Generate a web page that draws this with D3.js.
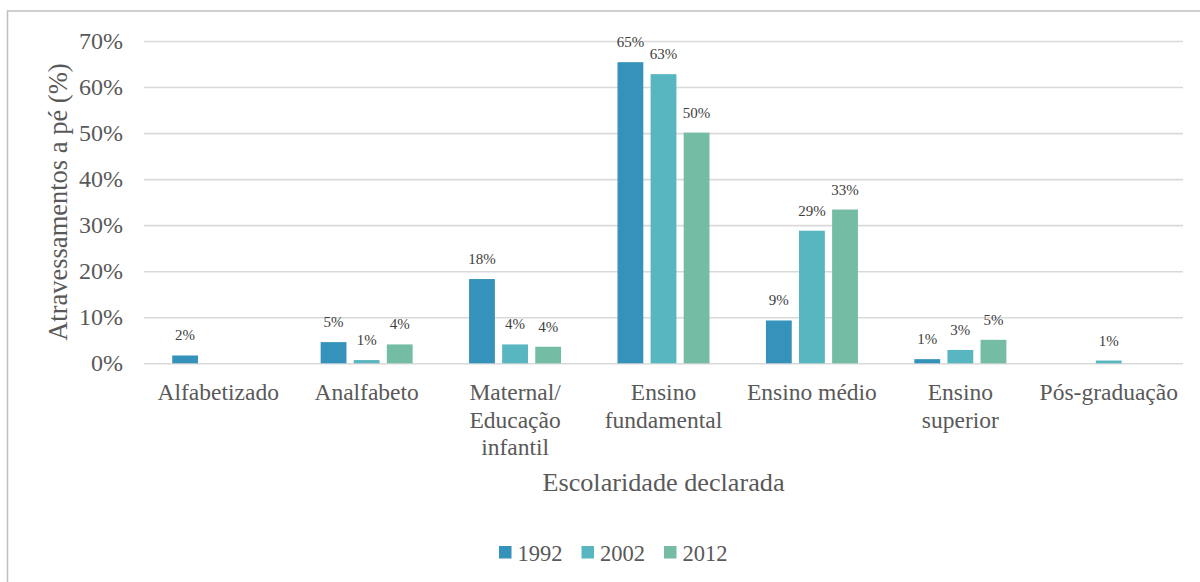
<!DOCTYPE html>
<html>
<head>
<meta charset="utf-8">
<script src="https://cdn.jsdelivr.net/npm/d3@7"></script>
<style>
  html, body { margin: 0; padding: 0; background: #fff; }
  svg { display: block; }
</style>
</head>
<body>
<svg id="chart" width="1200" height="582"></svg>
<script>
// Education level of pedestrians crossing, share per survey year
const categories = [
  "Alfabetizado",
  "Analfabeto",
  "Maternal/\nEducação\ninfantil",
  "Ensino\nfundamental",
  "Ensino médio",
  "Ensino\nsuperior",
  "Pós-graduação"
];
const years = ["1992", "2002", "2012"];
const values1992 = [0.017, 0.046, 0.183, 0.654, 0.093, 0.009, null];
const values2002 = [null, 0.007, 0.041, 0.628, 0.288, 0.029, 0.006];
const values2012 = [null, 0.041, 0.036, 0.501, 0.334, 0.051, null];
const yTicks = [0, 0.1, 0.2, 0.3, 0.4, 0.5, 0.6, 0.7];
const colors = ["#3592BA", "#58B6C0", "#74BDA4"];

const SERIF = "'Liberation Serif', 'Times New Roman', Times, serif";

const series = [values1992, values2002, values2012];
const rows = categories.map((c, i) => ({
  cat: c,
  vals: years.map((y, j) => ({ year: y, value: series[j][i] }))
}));

const svg = d3.select("#chart");

// outer frame
svg.append("rect")
  .attr("x", 7.5).attr("y", 11)
  .attr("width", 1200).attr("height", 600)
  .attr("fill", "none")
  .attr("stroke", "#BFBFBF")
  .attr("stroke-width", 1.5);

const plot = { left: 144, right: 1183, top: 41, bottom: 363.3 };

const x0 = d3.scaleBand()
  .domain(categories)
  .range([plot.left, plot.right])
  .padding(0);

const groupW = 92;
const x1 = d3.scaleBand()
  .domain(years)
  .range([(x0.bandwidth() - groupW) / 2, (x0.bandwidth() + groupW) / 2])
  .paddingInner(0.22);

const y = d3.scaleLinear()
  .domain([0, 0.7])
  .range([plot.bottom, plot.top]);

const color = d3.scaleOrdinal().domain(years).range(colors);
const pct = d3.format(".0%");

// gridlines and tick labels
const yAxis = d3.axisLeft(y)
  .tickValues(yTicks)
  .tickFormat(pct)
  .tickSize(-(plot.right - plot.left))
  .tickPadding(21);

const gy = svg.append("g")
  .attr("transform", `translate(${plot.left},0)`)
  .call(yAxis);
gy.select(".domain").remove();
gy.selectAll(".tick line")
  .attr("stroke", "#D9D9D9")
  .attr("stroke-width", 1.6);
gy.selectAll(".tick text")
  .attr("fill", "#595959")
  .style("font-size", "24px")
  .attr("dy", "0.31em");

// bars
const groups = svg.append("g")
  .selectAll("g")
  .data(rows)
  .join("g")
  .attr("transform", d => `translate(${x0(d.cat)},0)`);

const present = d => d.vals.filter(v => v.value != null);

groups.selectAll("rect")
  .data(present)
  .join("rect")
  .attr("x", d => x1(d.year))
  .attr("width", x1.bandwidth())
  .attr("y", d => y(d.value))
  .attr("height", d => y(0) - y(d.value))
  .attr("fill", d => color(d.year));

// value labels
groups.selectAll("text.val")
  .data(present)
  .join("text")
  .attr("class", "val")
  .attr("x", d => x1(d.year) + x1.bandwidth() / 2)
  .attr("y", d => y(d.value) - 15)
  .attr("text-anchor", "middle")
  .attr("fill", "#404040")
  .style("font-size", "15px")
  .text(d => pct(d.value));

// category labels
const xAxisG = svg.append("g");
categories.forEach(c => {
  const t = xAxisG.append("text")
    .attr("x", x0(c) + x0.bandwidth() / 2)
    .attr("y", 400)
    .attr("text-anchor", "middle")
    .attr("fill", "#595959")
    .style("font-size", "23.5px");
  c.split("\n").forEach((line, i) => {
    t.append("tspan")
      .attr("x", x0(c) + x0.bandwidth() / 2)
      .attr("dy", i === 0 ? 0 : 27.5)
      .text(line);
  });
});

// axis titles
svg.append("text")
  .attr("x", (plot.left + plot.right) / 2)
  .attr("y", 491)
  .attr("text-anchor", "middle")
  .attr("fill", "#595959")
  .style("font-size", "26.2px")
  .text("Escolaridade declarada");

svg.append("text")
  .attr("transform", `translate(67,${(plot.top + plot.bottom) / 2}) rotate(-90)`)
  .attr("text-anchor", "middle")
  .attr("fill", "#595959")
  .style("font-size", "26.5px")
  .text("Atravessamentos a pé (%)");

// legend
const legend = svg.append("g")
  .attr("transform", "translate(499,546)");
const item = legend.selectAll("g")
  .data(years)
  .join("g")
  .attr("transform", (d, i) => `translate(${i * 82.5},0)`);
item.append("rect")
  .attr("width", 12.5).attr("height", 12.5)
  .attr("fill", d => color(d));
item.append("text")
  .attr("x", 18.5)
  .attr("y", 14.7)
  .attr("fill", "#595959")
  .style("font-size", "22.5px")
  .text(d => d);

// serif type throughout
svg.selectAll("text").style("font-family", SERIF);
</script>
</body>
</html>
